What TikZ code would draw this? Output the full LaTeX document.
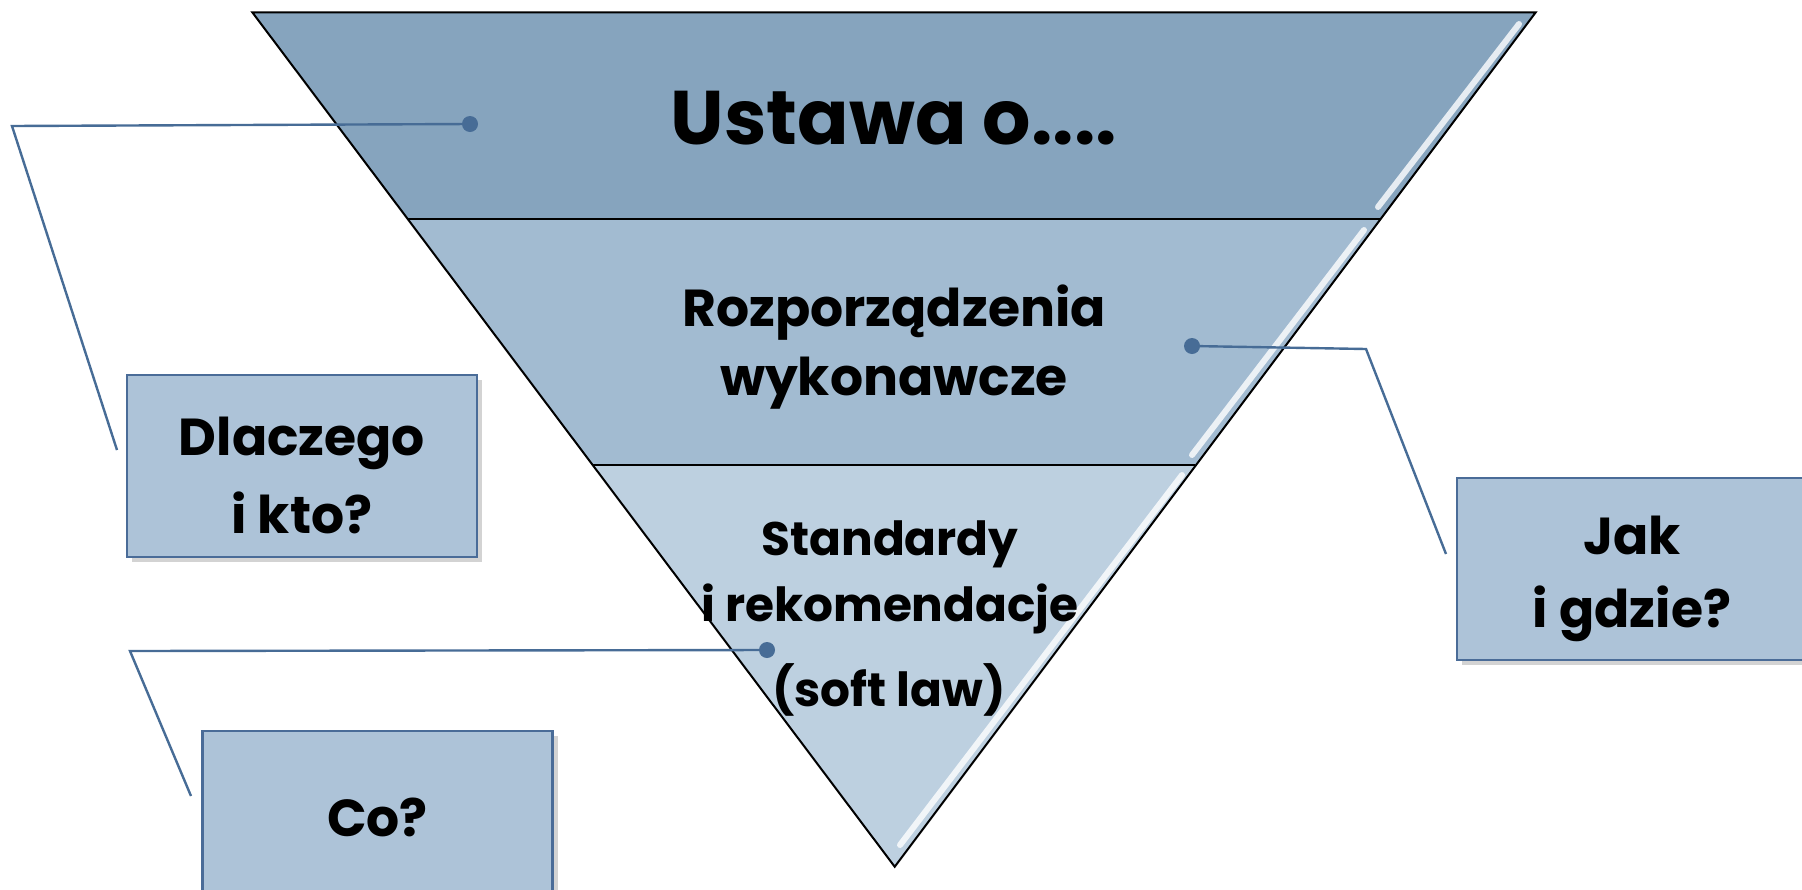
\documentclass[tikz,border=0pt]{standalone}
\usepackage{fontspec}
\setmainfont{Poppins}
\usetikzlibrary{shadows}
\definecolor{bandA}{HTML}{86A4BE}
\definecolor{bandB}{HTML}{A2BBD1}
\definecolor{bandC}{HTML}{BDD0E0}
\definecolor{boxfill}{HTML}{ADC3D8}
\definecolor{boxline}{HTML}{4A6C98}
\definecolor{conline}{HTML}{476C96}

\begin{document}
\begin{tikzpicture}[x=0.5pt, y=-0.5pt,
  band/.style={draw=black, line width=1pt, line join=miter},
  gloss/.style={white, line width=3pt, opacity=0.8, line cap=round},
  label/.style={align=center, inner sep=0pt},
  qbox/.style={draw=boxline, line width=1.3pt, fill=boxfill, minimum width=175pt, minimum height=91pt,
    drop shadow={shadow xshift=2.5pt, shadow yshift=-2.5pt, opacity=0.35}},
  qtext/.style={align=center, inner sep=0pt, font=\bfseries\fontsize{26}{39}\selectfont},
  dot/.style={circle, fill=conline, inner sep=0pt, minimum size=8pt},
  conn/.style={draw=conline, line width=1.2pt}]
\useasboundingbox (0,0) rectangle (1802,889);

\fill[bandA] (252.3,12.3) -- (1535.7,12.3) -- (1380.3,219) -- (407.7,219) -- cycle;
\fill[bandB] (407.7,219) -- (1380.3,219) -- (1195.3,465) -- (592.7,465) -- cycle;
\fill[bandC] (592.7,465) -- (1195.3,465) -- (894.7,866.7) -- cycle;
\draw[gloss] (1519,24) -- (1378,207);
\draw[gloss] (1364,230) -- (1192,455);
\draw[gloss] (1182,475) -- (900,845);
\draw[band] (252.3,12.3) -- (1535.7,12.3) -- (894.7,866.7) -- cycle;
\draw[band] (407.7,219) -- (1380.3,219);
\draw[band] (592.7,465) -- (1195.3,465);

\node[label, font=\bfseries\fontsize{38}{40}\selectfont] (ustawa) at (894,118) {Ustawa o....};
\node[label, font=\bfseries\fontsize{26}{34.5}\selectfont] (rozp) at (894,347) {Rozporządzenia\\wykonawcze};
\node[label, font=\bfseries\fontsize{23.5}{33}\selectfont] (stand) at (890,577) {Standardy\\i rekomendacje};
\node[label, font=\bfseries\fontsize{23.5}{31.5}\selectfont] (soft) at (889,690) {(soft law)};

\node[qbox] (dlaczego) at (302,466) {};
\node[qbox] (jak) at (1632,569) {};
\node[qbox] (co) at (377.5,822) {};
\node[qtext] (dlaczegotxt) at (302,475) {Dlaczego\\i kto?};
\node[qtext, font=\bfseries\fontsize{26}{36.5}\selectfont] (jaktxt) at (1632,579) {Jak\\i gdzie?};
\node[qtext] (cotxt) at (377.5,817) {Co?};

\node[dot] (p1) at (470,124) {};
\node[dot] (p2) at (1192,346) {};
\node[dot] (p3) at (767,650) {};
\coordinate (k1) at (12,126);
\coordinate (e1) at (117,450);
\coordinate (k2) at (1366,349);
\coordinate (e2) at (1446,554);
\coordinate (k3) at (130,651);
\coordinate (e3) at (191,796);
\draw[conn] (p1.center) -- (k1) -- (e1);
\draw[conn] (p2.center) -- (k2) -- (e2);
\draw[conn] (p3.center) -- (k3) -- (e3);
\end{tikzpicture}
\end{document}
